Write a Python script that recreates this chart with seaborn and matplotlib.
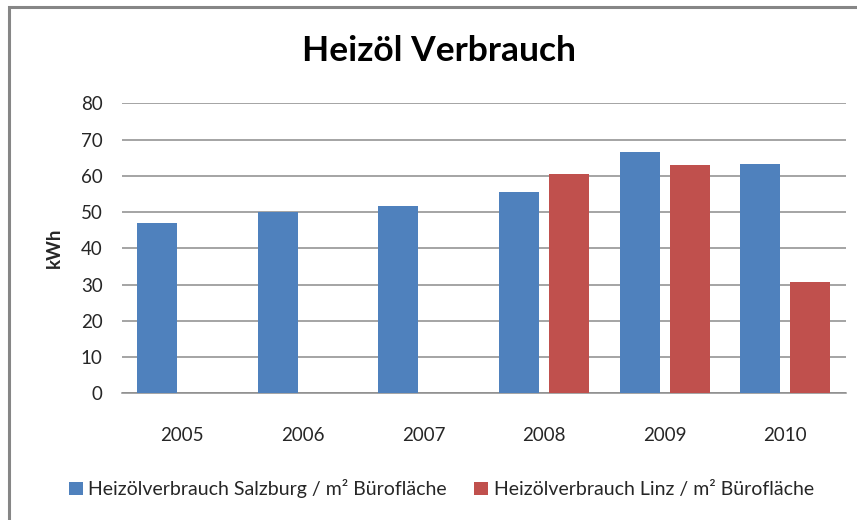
import numpy as np
import pandas as pd
import matplotlib
matplotlib.use("Agg")
import matplotlib.pyplot as plt
from matplotlib.patches import Rectangle
import seaborn as sns

years = ["2005", "2006", "2007", "2008", "2009", "2010"]
salzburg = [46.9, 50.0, 51.7, 55.6, 66.6, 63.3]
linz = [np.nan, np.nan, np.nan, 60.5, 62.9, 30.8]
series_names = ["Heizölverbrauch Salzburg / m² Bürofläche",
                "Heizölverbrauch Linz / m² Bürofläche"]
colors = ["#4F81BD", "#C0504D"]
yticks = [0, 10, 20, 30, 40, 50, 60, 70, 80]

df = pd.DataFrame({
    "Jahr": years * 2,
    "kWh": salzburg + linz,
    "Serie": [series_names[0]] * len(years) + [series_names[1]] * len(years),
})

sns.set_style("white")
plt.rcParams["font.family"] = ["Lato", "DejaVu Sans"]

fig = plt.figure(figsize=(8.57, 5.2), dpi=100)
ax = fig.add_axes([0.1424, 0.2437, 0.9866 - 0.1424, 0.8013 - 0.2437])

sns.barplot(data=df, x="Jahr", y="kWh", hue="Serie", order=years,
            hue_order=series_names, palette=colors, width=0.83, gap=0.2,
            linewidth=0, saturation=1, ax=ax, zorder=3)

ax.set_ylim(0, 80)
ax.set_yticks(yticks)
ax.set_xlim(-0.5, len(years) - 0.5)
ax.yaxis.grid(True, color="#8c8c8c", linewidth=1.1, zorder=0)
ax.set_axisbelow(True)
for s in ["left", "right", "top"]:
    ax.spines[s].set_visible(False)
ax.spines["bottom"].set_color("#8c8c8c")
ax.spines["bottom"].set_linewidth(1.1)
ax.tick_params(axis="y", length=0, pad=14, labelsize=13.5, labelcolor="#262626")
ax.tick_params(axis="x", length=0, pad=24, labelsize=13.5, labelcolor="#262626")
ax.set_xlabel("")
ax.set_ylabel("kWh", fontsize=13.5, fontweight="bold", labelpad=13)

fig.text(0.512, 0.902, "Heizöl Verbrauch", ha="center", va="center",
         fontsize=25.5, fontweight="bold", color="black")

handles, labels = ax.get_legend_handles_labels()
if ax.legend_:
    ax.legend_.remove()
fig.legend(handles, labels, loc="center", bbox_to_anchor=(0.515, 0.06),
           ncol=2, frameon=False, fontsize=14, handlelength=0.7,
           handleheight=0.7, handletextpad=0.3, columnspacing=1.4,
           labelcolor="#262626")

fig.patches.append(Rectangle((9 / 857, -0.1), 1.2, 1 - 7 / 520 + 0.1,
                             transform=fig.transFigure, fill=False,
                             edgecolor="#868686", linewidth=2.2))

fig.savefig("out.png", dpi=100)
